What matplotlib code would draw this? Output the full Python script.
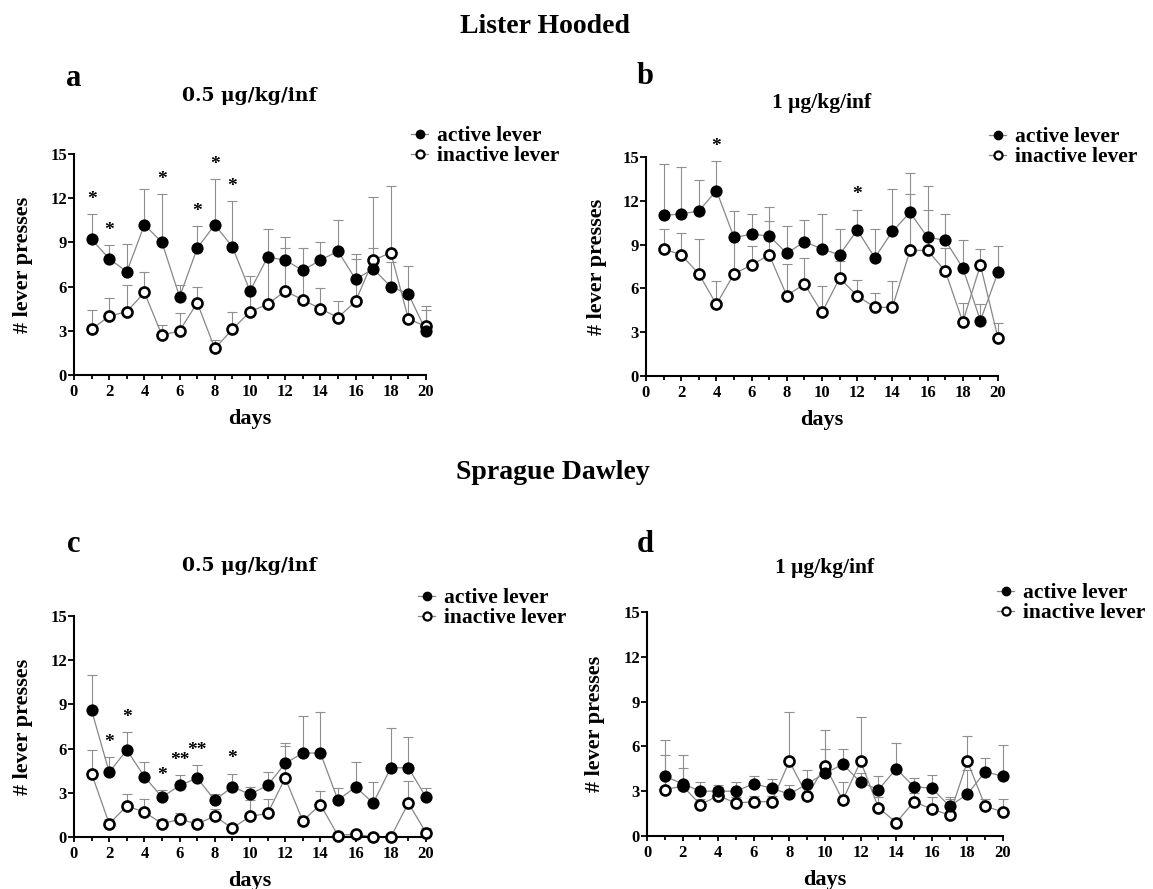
import numpy as np
import matplotlib
matplotlib.use("Agg")
import matplotlib.pyplot as plt
from matplotlib.lines import Line2D
from matplotlib.ticker import MultipleLocator

# ---------------- data ----------------
days = list(range(1, 21))

# Lister Hooded, 0.5 ug/kg/inf (panel a)
a_active = [9.2, 7.9, 7.0, 10.2, 9.0, 5.3, 8.6, 10.2, 8.7, 5.7, 8.0, 7.8, 7.1, 7.8, 8.4, 6.5, 7.2, 6.0, 5.5, 3.0]
a_active_err = [1.7, 0.9, 1.9, 2.4, 3.3, 0.8, 1.5, 3.1, 3.1, 1.0, 1.9, 1.6, 1.5, 1.2, 2.1, 1.7, 1.4, 1.7, 1.9, 1.7]
a_inactive = [3.1, 4.0, 4.3, 5.6, 2.7, 3.0, 4.9, 1.8, 3.1, 4.3, 4.8, 5.7, 5.1, 4.5, 3.9, 5.0, 7.8, 8.3, 3.8, 3.3]
a_inactive_err = [1.3, 1.2, 1.8, 1.4, 0.7, 1.2, 1.1, 0.6, 1.2, 1.3, 3.4, 2.9, 1.9, 1.4, 1.1, 2.9, 4.3, 4.5, 1.6, 1.1]
a_star_days = [1, 2, 5, 7, 8, 9]
a_star_labels = ["*", "*", "*", "*", "*", "*"]

# Lister Hooded, 1 ug/kg/inf (panel b)
b_active = [11.0, 11.1, 11.3, 12.7, 9.5, 9.7, 9.6, 8.4, 9.2, 8.7, 8.3, 10.0, 8.1, 9.9, 11.2, 9.5, 9.3, 7.4, 3.8, 7.1]
b_active_err = [3.5, 3.2, 2.1, 2.0, 1.8, 1.4, 2.0, 1.9, 1.5, 2.4, 1.8, 1.4, 2.0, 2.9, 2.7, 3.5, 1.8, 1.9, 1.1, 1.8]
b_inactive = [8.7, 8.3, 7.0, 4.9, 7.0, 7.6, 8.3, 5.5, 6.3, 4.35, 6.7, 5.5, 4.7, 4.7, 8.6, 8.6, 7.2, 3.7, 7.6, 2.6]
b_inactive_err = [1.4, 1.5, 2.4, 1.6, 2.4, 1.3, 2.3, 2.2, 1.8, 1.8, 1.2, 1.1, 1.0, 1.8, 3.9, 2.8, 1.6, 1.3, 1.1, 1.0]
b_star_days = [4, 12]
b_star_labels = ["*", "*"]

# Sprague Dawley, 0.5 ug/kg/inf (panel c)
c_active = [8.6, 4.4, 5.9, 4.1, 2.7, 3.5, 4.0, 2.5, 3.4, 2.9, 3.5, 5.0, 5.7, 5.7, 2.5, 3.4, 2.3, 4.7, 4.7, 2.7]
c_active_err = [2.4, 1.0, 1.2, 1.0, 0.5, 0.7, 0.9, 0.4, 0.9, 0.5, 0.9, 1.4, 2.5, 2.8, 0.8, 1.7, 1.4, 2.7, 2.1, 0.6]
c_inactive = [4.3, 0.9, 2.1, 1.7, 0.9, 1.2, 0.9, 1.4, 0.6, 1.4, 1.6, 4.0, 1.1, 2.2, 0.1, 0.2, 0.0, 0.0, 2.3, 0.3]
c_inactive_err = [1.6, 0.3, 0.8, 0.9, 0.3, 0.4, 0.3, 0.5, 0.3, 1.1, 1.0, 2.2, 0.3, 0.9, 0.2, 0.2, 0.1, 0.1, 1.5, 0.3]
c_star_days = [2, 3, 5, 6, 7, 9]
c_star_labels = ["*", "*", "*", "**", "**", "*"]

# Sprague Dawley, 1 ug/kg/inf (panel d)
d_active = [4.0, 3.5, 3.0, 3.0, 3.0, 3.5, 3.2, 2.8, 3.5, 4.2, 4.8, 3.6, 3.1, 4.5, 3.3, 3.2, 2.0, 2.8, 4.3, 4.0]
d_active_err = [2.4, 1.9, 0.6, 0.4, 0.6, 0.5, 0.6, 0.6, 0.9, 1.6, 1.0, 0.6, 0.9, 1.7, 0.6, 0.9, 0.6, 1.6, 0.9, 2.1]
d_inactive = [3.1, 3.35, 2.1, 2.7, 2.2, 2.3, 2.3, 5.0, 2.7, 4.7, 2.4, 5.0, 1.9, 0.9, 2.3, 1.8, 1.4, 5.0, 2.0, 1.6]
d_inactive_err = [2.3, 1.2, 0.4, 0.6, 0.4, 0.4, 0.4, 3.3, 0.5, 2.4, 1.2, 3.0, 0.7, 0.3, 0.6, 0.8, 1.1, 1.7, 0.5, 0.9]
d_star_days = []
d_star_labels = []

legend_labels = ["active lever", "inactive lever"]
x_ticks = [0, 2, 4, 6, 8, 10, 12, 14, 16, 18, 20]
y_ticks = [0, 3, 6, 9, 12, 15]

# ---------------- style ----------------
plt.rcParams["font.family"] = ["Liberation Serif", "DejaVu Serif"]
plt.rcParams["font.weight"] = "bold"

W, H = 1153, 889
fig = plt.figure(figsize=(W / 100, H / 100), dpi=100)


def fx(x):
    return x / W


def fy(y):
    return 1 - y / H


LINE_GRAY = "#878787"
ERR_GRAY = "#8f8f8f"


def draw_panel(rect, act, act_err, inact, inact_err, star_days, star_labels, leg_xy):
    left, top, right, bottom = rect
    ax = fig.add_axes([fx(left), fy(bottom), (right - left) / W, (bottom - top) / H])
    act = np.asarray(act, float)
    act_err = np.asarray(act_err, float)
    inact = np.asarray(inact, float)
    inact_err = np.asarray(inact_err, float)
    # upper-only error bars with a cap at the top
    for vals, err in ((inact, inact_err), (act, act_err)):
        ax.vlines(days, vals, vals + err, colors=ERR_GRAY, lw=0.8, zorder=1, clip_on=False)
        ax.plot(days, vals + err, ls="none", marker="_", ms=7, mew=0.8, color=ERR_GRAY,
                zorder=1, clip_on=False)
    ax.plot(days, inact, "-", color=LINE_GRAY, lw=0.9, zorder=2, clip_on=False)
    ax.plot(days, act, "-", color=LINE_GRAY, lw=0.9, zorder=2, clip_on=False)
    ax.plot(days, inact, "o", ms=7.2, mfc="white", mec="black", mew=1.9, ls="none",
            zorder=3, clip_on=False)
    ax.plot(days, act, "o", ms=8.8, mfc="black", mec="black", mew=0, ls="none",
            zorder=4, clip_on=False)
    for d, lab in zip(star_days, star_labels):
        i = days.index(d)
        ax.text(d, act[i] + act_err[i] + 1.0, lab, ha="center", va="center",
                fontsize=14, fontweight="bold")
    ax.set_xlim(0, 20)
    ax.set_ylim(0, 15)
    ax.set_xticks(x_ticks)
    ax.xaxis.set_minor_locator(MultipleLocator(1))
    ax.set_yticks(y_ticks)
    for s in ("top", "right"):
        ax.spines[s].set_visible(False)
    for s in ("left", "bottom"):
        ax.spines[s].set_linewidth(1.5)
    ax.tick_params(axis="both", which="both", direction="out", width=1.3,
                   colors="black", labelsize=12)
    ax.tick_params(axis="x", which="major", length=3.8, pad=2.4)
    ax.tick_params(axis="x", which="minor", length=3.2)
    ax.tick_params(axis="y", which="major", length=4.3, pad=0.8)

    handles = [
        Line2D([], [], color=LINE_GRAY, lw=0.9, marker="o", ms=7, mfc="black", mec="black", mew=0),
        Line2D([], [], color=LINE_GRAY, lw=0.9, marker="o", ms=5.8, mfc="white", mec="black", mew=1.6),
    ]
    ax.legend(handles, legend_labels, loc="upper left",
              bbox_to_anchor=(fx(leg_xy[0]), fy(leg_xy[1])), bbox_transform=fig.transFigure,
              frameon=False, fontsize=15.5, handlelength=0.8, handletextpad=0.4,
              labelspacing=0.0, borderpad=0, borderaxespad=0)

    cx = (left + right) / 2
    fig.text(fx(cx), fy(bottom + 49), "days", ha="center", va="baseline", fontsize=16)
    return ax


rect_a = (74, 154, 426, 375)
rect_b = (646, 157, 998, 376)
rect_c = (74, 616, 426, 837)
rect_d = (647, 612, 1003, 836)

draw_panel(rect_a, a_active, a_active_err, a_inactive, a_inactive_err, a_star_days, a_star_labels, (411, 126))
draw_panel(rect_b, b_active, b_active_err, b_inactive, b_inactive_err, b_star_days, b_star_labels, (989, 127))
draw_panel(rect_c, c_active, c_active_err, c_inactive, c_inactive_err, c_star_days, c_star_labels, (418, 588))
draw_panel(rect_d, d_active, d_active_err, d_inactive, d_inactive_err, d_star_days, d_star_labels, (997, 583))

# y labels
for xc, r in ((23, rect_a), (597, rect_b), (23, rect_c), (595, rect_d)):
    fig.text(fx(xc), fy((r[1] + r[3]) / 2), "# lever presses", rotation=90,
             ha="center", va="center", fontsize=16)

# group titles
fig.text(fx(545), fy(33), "Lister Hooded", ha="center", va="baseline", fontsize=20)
fig.text(fx(553), fy(479), "Sprague Dawley", ha="center", va="baseline", fontsize=20)

# panel letters
for lab, x, y in (("a", 66, 86), ("b", 637, 84), ("c", 67, 552), ("d", 637, 552)):
    fig.text(fx(x), fy(y), lab, ha="left", va="baseline", fontsize=22)

# dose subtitles
fig.text(fx(249), fy(101), "0.5 μg/kg/inf", ha="center", va="baseline", fontsize=13.5,
         family=["DejaVu Serif"])
fig.text(fx(822), fy(108), "1 μg/kg/inf", ha="center", va="baseline", fontsize=15.5)
fig.text(fx(249), fy(571), "0.5 μg/kg/inf", ha="center", va="baseline", fontsize=13.5,
         family=["DejaVu Serif"])
fig.text(fx(825), fy(573), "1 μg/kg/inf", ha="center", va="baseline", fontsize=15.5)

fig.savefig("out.png", dpi=100)
